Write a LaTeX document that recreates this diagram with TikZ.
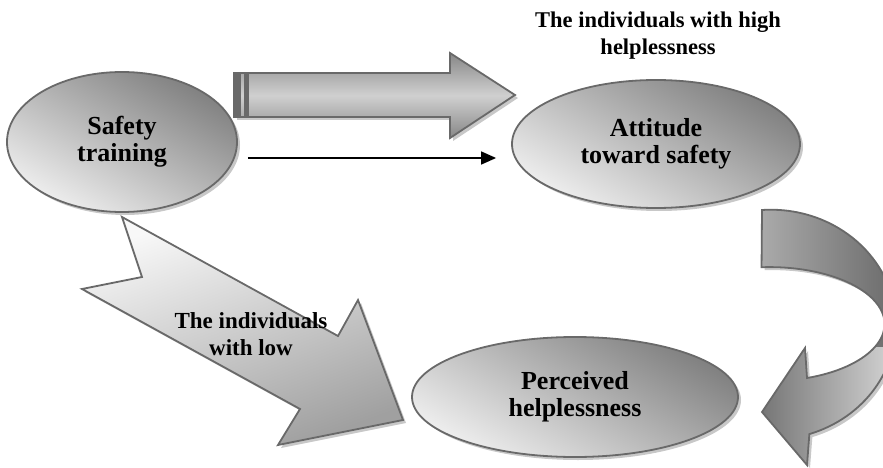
\documentclass[tikz,border=0pt]{standalone}
\usepackage{fontspec}
\setmainfont{Liberation Serif}
\usetikzlibrary{shapes.geometric,shadows,arrows.meta,calc}
\definecolor{edgec}{RGB}{105,105,105}
\definecolor{shadowc}{RGB}{200,200,200}
\definecolor{elltop}{RGB}{128,128,128}
\definecolor{ellbot}{RGB}{238,238,238}
\definecolor{stripec}{RGB}{105,105,105}
\definecolor{harrdark}{RGB}{135,135,135}
\definecolor{harrlight}{RGB}{208,208,208}
\definecolor{diagtop}{RGB}{248,248,248}
\definecolor{diagbot}{RGB}{160,160,160}
\definecolor{curvA}{RGB}{170,170,170}
\definecolor{curvB}{RGB}{105,105,105}
\definecolor{curvC}{RGB}{118,118,118}
\definecolor{curvD}{RGB}{215,215,215}
\tikzset{
  shadowed/.style={drop shadow={shadow xshift=3pt,shadow yshift=-3pt,fill=shadowc,opacity=1}},
  ell/.style={ellipse,draw=edgec,line width=1.8pt,inner sep=0pt,
    top color=elltop,bottom color=ellbot,shading angle=-30,shadowed,
    font=\fontsize{26}{27}\selectfont\bfseries,align=center},
  blockarrow/.style={draw=edgec,line width=1.8pt,line join=miter,shadowed},
  lbl/.style={font=\fontsize{23}{27}\selectfont\bfseries,align=center,inner sep=0pt},
  thinarrow/.style={line width=1.5pt,-{Triangle[length=15pt,width=13pt]}}
}
\begin{document}
\begin{tikzpicture}[x=1pt,y=-1pt]
\useasboundingbox (0,0) rectangle (883,468);
\clip (0,0) rectangle (883,468);

% big top arrow
\path[blockarrow,top color=harrdark,bottom color=harrdark,middle color=harrlight]
  (234,73) -- (450,73) -- (450,53) -- (515,95) -- (450,138) -- (450,117) -- (234,117) -- cycle;
\fill[stripec] (234,73) rectangle (241,117);
\fill[stripec] (244,73) rectangle (248,117);
\draw[edgec,line width=1.8pt] (234,73) rectangle (248,117);

% diagonal notched arrow
\path[blockarrow,top color=diagtop,bottom color=diagbot,shading angle=20]
  (122,217) -- (338,336) -- (358,300) -- (403,420) -- (278,445) -- (300,409)
  -- (82,289) -- (142,277) -- cycle;

% curved arrow on the right
\path[blockarrow,path picture={
    \shade[left color=curvA,right color=curvB]
      (path picture bounding box.north west) rectangle ([yshift=-12pt]path picture bounding box.east);
    \shade[left color=curvC,right color=curvD]
      ([yshift=-12pt]path picture bounding box.west) rectangle (path picture bounding box.south east);
  }]
  (762,210) arc[start angle=-94,end angle=72,x radius=125,y radius=115]
  -- (807,465) -- (762,412) -- (805,348) -- (807,378)
  arc[start angle=71,end angle=-94,x radius=115,y radius=57] -- cycle;

% ellipses
\node[ell,minimum width=230pt,minimum height=140pt] (safe) at (122,142) {Safety\\training};
\node[ell,minimum width=288pt,minimum height=128pt] (att) at (656,144) {Attitude\\toward safety};
\node[ell,minimum width=326pt,minimum height=120pt] (perc) at (575,397) {Perceived\\helplessness};

% thin arrow
\draw[thinarrow] ($(safe.east)+(10,16)$) -- ($(att.west)+(-15,14)$);

% labels
\node[lbl,font=\fontsize{22.5}{27}\selectfont\bfseries] (high) at (658,36) {The individuals with high\\helplessness};
\node[lbl] (low) at (251,334) {The individuals\\with low};
\end{tikzpicture}
\end{document}
